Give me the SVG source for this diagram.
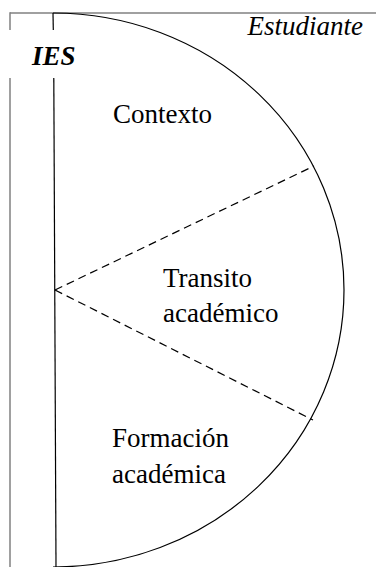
<svg xmlns="http://www.w3.org/2000/svg" width="376" height="567" viewBox="0 0 376 567" font-family="'Liberation Serif', 'Times New Roman', serif">
<style>
.frame{stroke:#808080;stroke-width:1.5;fill:none}
.ln{stroke:#000;stroke-width:1.2;fill:none}
.dash{stroke:#000;stroke-width:1.2;fill:none;stroke-dasharray:8 5}
.t{font-family:'Liberation Serif','Times New Roman',serif;font-size:27px;fill:#000}
</style>
<rect width="376" height="567" fill="#fff"/>
<g id="frame">
<line class="frame" x1="10" y1="13" x2="376" y2="13"/>
<line class="frame" x1="10" y1="12.3" x2="10" y2="30"/>
<line class="frame" x1="10" y1="78" x2="10" y2="567"/>
</g>
<g id="ies">
<line class="ln" x1="53" y1="13" x2="53.3" y2="30"/>
<line class="ln" x1="53.8" y1="78" x2="56" y2="567"/>
<text class="t" x="32" y="65" font-weight="bold" font-style="italic">IES</text>
</g>
<g id="estudiante">
<path class="ln" d="M53,13 A291,277 0 0 1 53,567"/>
<text class="t" x="363" y="35" font-style="italic" text-anchor="end">Estudiante</text>
</g>
<g id="connectors">
<line class="dash" x1="55" y1="290" x2="314" y2="166"/>
<line class="dash" x1="55" y1="290" x2="313" y2="420"/>
</g>
<g id="contexto">
<text class="t" x="113" y="123">Contexto</text>
</g>
<g id="transito">
<text class="t" x="163" y="287">Transito</text>
<text class="t" x="163" y="322">académico</text>
</g>
<g id="formacion">
<text class="t" x="112" y="447">Formación</text>
<text class="t" x="112" y="483">académica</text>
</g>
</svg>
